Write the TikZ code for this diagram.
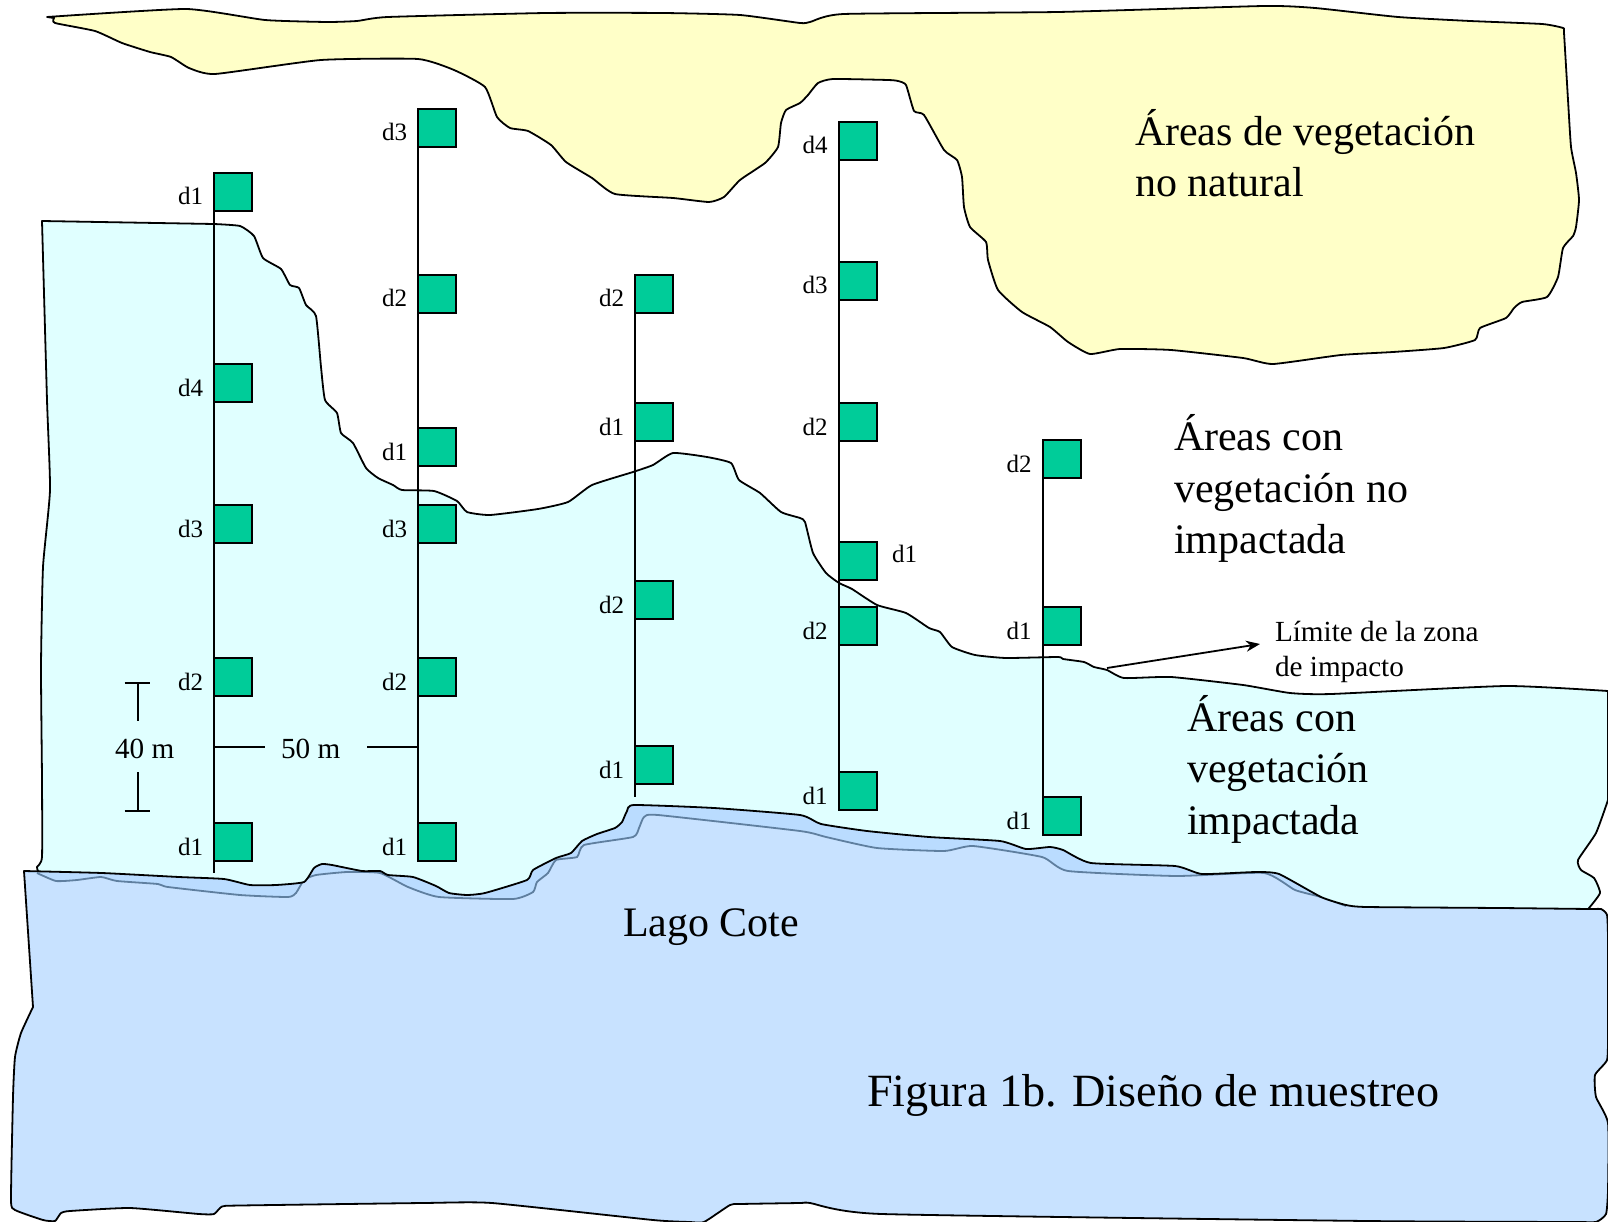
\documentclass[tikz,border=0pt]{standalone}
\usepackage{fontspec}
\usetikzlibrary{arrows.meta}
\setmainfont{Liberation Serif}
\definecolor{yellowarea}{HTML}{FFFFC8}
\definecolor{cyanarea}{HTML}{E0FFFF}
\definecolor{sampgreen}{HTML}{00CC99}
\definecolor{lakeblue}{HTML}{C8E2FF}
\definecolor{lakestrip}{HTML}{BADCFF}
\definecolor{shoregray}{HTML}{5F7F9F}
\newcommand{\smp}[4]{%
  \node[sq,anchor=north west] (#1) at (#2,#3) {};
  \node[dl,anchor=base east,xshift=-11pt,yshift=-32pt] (#1l) at (#2,#3) {#4};
}
\newcommand{\lakepath}{plot[smoothy] coordinates {(24,871)(102,873)(179,877)(224,879)(250,885)(276,885)(304,882)(314,868)(322,864)(332,865)(362,871)(380,871)(388,875)(413,877)(436,886)(449,893)(467,895)(485,893)(527,880)(533,870)(556,858)(571,853)(582,841)(597,834)(615,828)(622,822)(627,811)(634,805)(714,808)(800,815)(821,824)(867,831)(929,837)(1000,841)(1026,849)(1050,847)(1063,850)(1091,863)(1175,866)(1202,874)(1256,872)(1279,874)(1321,897)(1346,905)(1367,907)(1500,908)(1590,909)(1601,909)(1607,915)(1608,940)(1608,1033)(1607,1060)(1595,1075)(1596,1097)(1608,1123)(1608,1190)(1606,1214)(1596,1222)(1575,1222)(1367,1221)(882,1214)(810,1203)(800,1203)(740,1204)(730,1205)(704,1222)(690,1222)(653,1220)(492,1203)(423,1203)(240,1205.5)(222,1206.5)(214,1214)(199,1214)(130,1208)(70,1211)(61,1213)(55,1221)(43,1220)(15,1210)(11,1200)(13,1097)(15,1057)(21,1033)(33,1007)} -- cycle}
\tikzset{
  smoothy/.style={smooth,tension=0.3},
  outline/.style={draw=black,line width=1.8pt,line join=round},
  sq/.style={rectangle,draw=black,fill=sampgreen,line width=2pt,minimum width=38pt,minimum height=38pt,inner sep=0pt,outer sep=0pt},
  dl/.style={inner sep=0pt,outer sep=0pt,font=\fontsize{25}{30}\selectfont},
  bigtxt/.style={inner sep=0pt,outer sep=0pt,align=left,font=\fontsize{42}{51.5}\selectfont},
  midtxt/.style={inner sep=0pt,outer sep=0pt,align=left,font=\fontsize{29.2}{35}\selectfont},
  stem/.style={draw=black,line width=2pt},
  barline/.style={draw=black,line width=1.6pt}
}
\begin{document}
\begin{tikzpicture}[x=1pt,y=-1pt]
\useasboundingbox (0,0) rectangle (1608,1222);
\fill[white] (0,0) rectangle (1608,1222);
% non-natural vegetation
\path[fill=yellowarea,outline] plot[smoothy] coordinates {(47,17)(186,9)(265,20)(327,22)(357,21)(388,17)(546,13)(663,13)(740,15)(800,23)(810,22)(844,14)(1058,12)(1264,6)(1315,8)(1398,17)(1470,21)(1542,24)(1563,28)(1564,33)(1568,100)(1571,147)(1576,173)(1579,200)(1576,227)(1573,236)(1563,248)(1558,277)(1547,297)(1522,302)(1514,308)(1506,318)(1480,328)(1475,340)(1444,348)(1393,352)(1341,355)(1273,364)(1243,358)(1171,350)(1120,349)(1090,354)(1068,342)(1050,327)(1022,312)(998,290)(988,260)(986,242)(970,227)(964,207)(962,177)(957,160)(944,150)(924,115)(914,111)(906,85)(898,81)(888,80)(833,79)(818,83)(808,95)(800,103)(786,110)(781,123)(778,147)(765,163)(740,180)(724,197)(709,202)(673,198)(615,194)(592,178)(566,162)(551,145)(528,131)(510,128)(497,117)(485,87)(454,70)(418,59)(321,60)(215,74)(189,68)(171,57)(150,52)(122,43)(95,31)(55,23)(54,18)} -- cycle;
% impacted vegetation
\path[fill=cyanarea,outline] (42,221) -- plot[smoothy] coordinates {(214,224)(240,226)(254,236)(263,258)(281,269)(290,285)(299,288)(306,305)(316,316)(321,367)(325,400)(337,413)(341,433)(353,443)(366,468)(378,478)(393,485)(402,490)(434,491)(457,501)(467,512)(490,515)(538,509)(568,502)(592,485)(633,472)(653,465)(673,453)(707,457)(731,463)(739,480)(760,493)(781,512)(800,518)(805,522)(813,553)(826,573)(839,583)(852,589)(877,605)(906,613)(929,628)(940,632)(952,647)(975,655)(1006,658)(1058,657)(1063,659)(1084,662)(1094,667)(1107,670)(1124,678)(1171,677)(1243,685)(1290,693)(1331,694)(1506,686)(1608,691)} -- (1608,800) -- plot[smoothy] coordinates {(1608,800)(1596,833)(1578,860)(1581,870)(1594,878)(1600,893)(1589,908)} -- (1589,916) -- (38,916) -- plot[smoothy] coordinates {(38,871)(37,867)(42,857)(42,780)(41,667)(43,567)(50,490)(47,400)(42,221)} -- cycle;
% lake
\fill[lakestrip] \lakepath;
\begin{scope}
  \clip \lakepath;
  \fill[lakeblue] plot[smoothy] coordinates {(37,873)(56,881)(77,880)(101,877)(117,881)(158,884)(168,887)(240,895)(288,897)(296,893)(304,880)(316,875)(347,872)(380,873)(408,887)(439,897)(513,899)(533,892)(537,882)(548,873)(556,860)(577,857)(584,845)(633,837)(639,828)(644,817)(658,815)(800,831)(826,837)(877,848)(944,851)(973,846)(1042,857)(1068,871)(1176,876)(1264,873)(1295,890)(1321,897)(1346,906)} -- (1608,906) -- (1608,1222) -- (0,1222) -- (0,873) -- cycle;
  \draw[shoregray,line width=1.8pt] plot[smoothy] coordinates {(37,873)(56,881)(77,880)(101,877)(117,881)(158,884)(168,887)(240,895)(288,897)(296,893)(304,880)(316,875)(347,872)(380,873)(408,887)(439,897)(513,899)(533,892)(537,882)(548,873)(556,860)(577,857)(584,845)(633,837)(639,828)(644,817)(658,815)(800,831)(826,837)(877,848)(944,851)(973,846)(1042,857)(1068,871)(1176,876)(1264,873)(1295,890)(1321,897)(1346,906)};
\end{scope}
\path[outline] \lakepath;
% transects
\smp{aa}{214}{173}{d1}
\smp{ab}{214}{364}{d4}
\smp{ac}{214}{505}{d3}
\smp{ad}{214}{658}{d2}
\smp{ae}{214}{823}{d1}
\smp{ba}{418}{109}{d3}
\smp{bb}{418}{275}{d2}
\smp{bc}{418}{428}{d1}
\smp{bd}{418}{505}{d3}
\smp{be}{418}{658}{d2}
\smp{bf}{418}{823}{d1}
\smp{ca}{635}{275}{d2}
\smp{cb}{635}{403}{d1}
\smp{cc}{635}{581}{d2}
\smp{cd}{635}{746}{d1}
\smp{da}{838.5}{122}{d4}
\smp{db}{838.5}{262}{d3}
\smp{dc}{838.5}{403}{d2}
\node[sq,anchor=north west] (dd) at (838.5,542) {};
\node[dl,anchor=base west] (ddl) at (892,562) {d1};
\smp{de}{838.5}{607}{d2}
\smp{df}{838.5}{772}{d1}
\smp{ea}{1042.5}{440}{d2}
\smp{eb}{1042.5}{607}{d1}
\smp{ec}{1042.5}{797}{d1}
\coordinate (endA) at (214,873);
\coordinate (endC) at (635,797);
\draw[stem] (aa.north west) -- (endA);
\draw[stem] (ba.north west) -- (bf.south west);
\draw[stem] (ca.north west) -- (endC);
\draw[stem] (da.north west) -- (df.south west);
\draw[stem] (ea.north west) -- (ec.south west);
% scale bars
\coordinate (tl) at (124.5,683); \coordinate (tr) at (149.5,683); \coordinate (tm) at (138,683); \coordinate (tb) at (138,721);
\coordinate (bl) at (124.5,811); \coordinate (br) at (149.5,811); \coordinate (bm) at (138,811); \coordinate (bt) at (138,772);
\draw[barline] (tl) -- (tr);
\draw[barline] (tm) -- (tb);
\draw[barline] (bl) -- (br);
\draw[barline] (bm) -- (bt);
\node[midtxt,anchor=base west] (fortym) at (115,758) {40 m};
\node[midtxt,anchor=base west] (fiftym) at (281,758) {50 m};
\coordinate (hl) at (214,747); \coordinate (hla) at (265,747); \coordinate (hr) at (367,747); \coordinate (hrb) at (418,747);
\draw[barline] (hl) -- (hla);
\draw[barline] (hr) -- (hrb);
% texts
\node[bigtxt,anchor=base west] (nat) at (1135,197) {Áreas de vegetación\\no natural};
\node[bigtxt,anchor=base west] (noimp) at (1174,553.5) {Áreas con\\vegetación no\\impactada};
\node[bigtxt,anchor=base west] (imp) at (1187,834) {Áreas con\\vegetación\\impactada};
\node[bigtxt,anchor=base west] (lago) at (623,936) {Lago Cote};
\node[inner sep=0pt,outer sep=0pt,anchor=base west,font=\fontsize{46.2}{55}\selectfont] (fig) at (867,1106) {Figura 1b. Diseño de muestreo};
\node[midtxt,anchor=base west] (lim) at (1275,676) {Límite de la zona\\de impacto};
\coordinate (arrowstart) at (1107,668);
\coordinate (arrowtip) at (1260,644);
\draw[-{Stealth[length=14pt,width=11pt]},line width=1.8pt] (arrowstart) -- (arrowtip);
\end{tikzpicture}
\end{document}
